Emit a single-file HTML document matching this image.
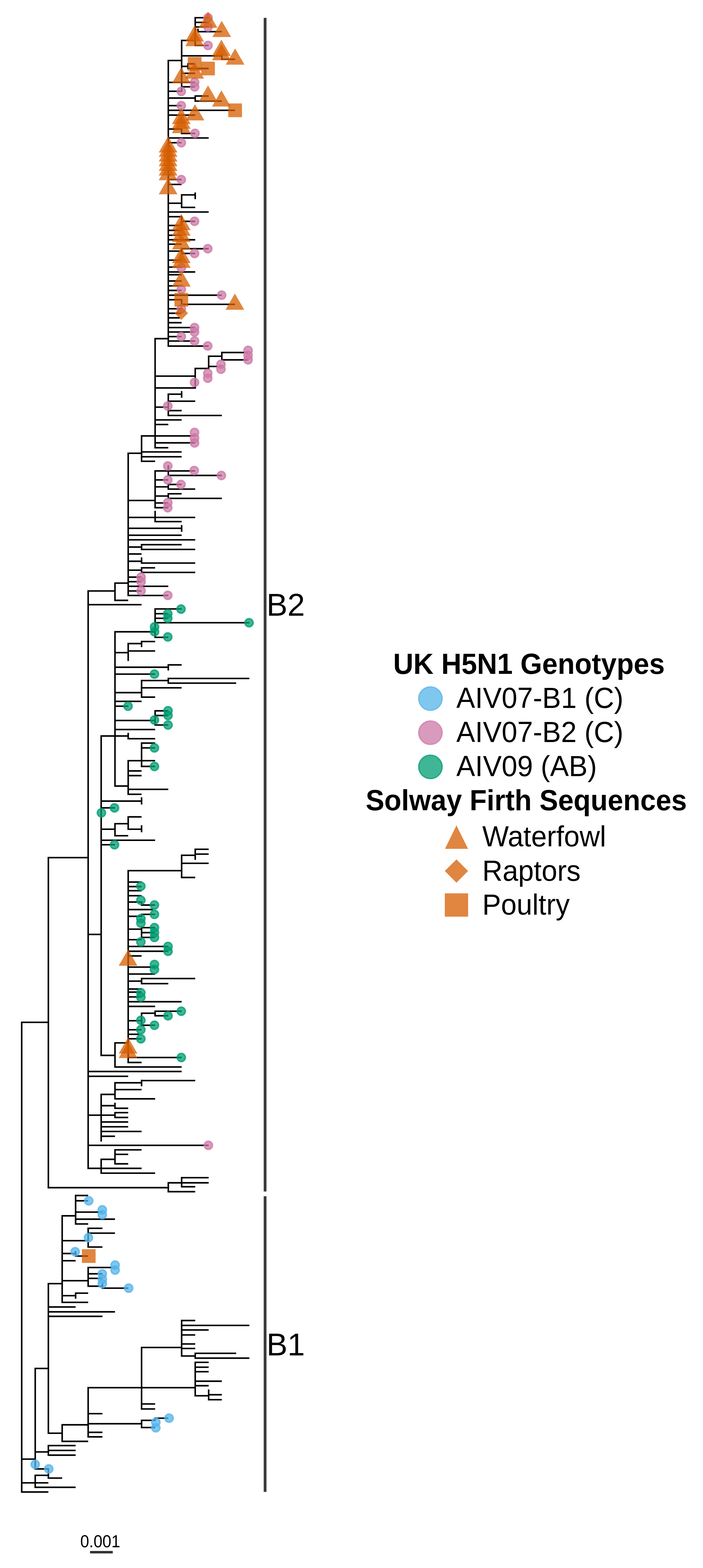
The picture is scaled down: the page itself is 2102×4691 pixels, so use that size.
<!DOCTYPE html>
<html><head><meta charset="utf-8"><title>UK H5N1 phylogeny</title>
<style>
html,body{margin:0;padding:0;background:#fff;}
body{width:2102px;height:4691px;overflow:hidden;position:relative;}
svg{position:absolute;left:0;top:0;display:block;}
text{font-family:"Liberation Sans",sans-serif;fill:#000;}
</style></head><body>
<svg width="2102" height="4691" viewBox="0 0 2102 4691">
<rect width="2102" height="4691" fill="#fff"/>

<path d="M583.7 50.7V138.3M581.4 53.0H623.9M581.4 67.0H623.9M581.4 80.7H623.9M592.0 85.7V97.0M589.7 94.8H663.3M540.8 121.0H583.7M581.4 136.0H623.9M543.1 118.7V275.3M540.8 167.0H663.3M663.3 161.7V179.5M661.0 177.2H702.6M503.2 178.7V1037.7M500.9 181.0H543.1M540.8 198.6H562.0M562.0 188.7V207.2M559.7 191.0H583.7M559.7 204.9H623.9M540.8 219.3H583.7M500.9 246.5H570.0M540.8 246.5H583.7M540.8 259.7H583.7M540.8 273.0H543.1M500.9 273.0H543.1M500.9 293.4H583.7M583.7 284.9V304.8M581.4 287.2H623.9M581.4 302.5H663.3M500.9 316.0H543.1M500.9 330.0H702.6M500.9 344.4H583.7M500.9 386.0H543.1M543.1 383.7V401.4M540.8 399.1H583.7M500.9 412.8H623.9M500.9 440.0H510.0M500.9 454.0H510.0M500.9 468.0H510.0M500.9 482.0H510.0M500.9 495.0H510.0M500.9 509.0H510.0M500.9 523.0H510.0M500.9 427.0H543.1M500.9 537.3H543.1M500.9 551.8H543.1M500.9 608.0H543.1M543.1 580.7V622.8M540.8 583.0H583.7M583.7 575.7V595.7M540.8 620.5H583.7M500.9 634.2H623.9M500.9 648.3H543.1M543.1 646.0V672.7M540.8 662.1H583.7M500.9 674.5H543.1M500.9 689.1H543.1M500.9 703.7H543.1M500.9 717.4H583.7M500.9 730.5H543.1M500.9 730.5H543.1M543.1 741.8V760.6M500.9 751.2H543.1M540.8 744.1H623.9M540.8 758.3H583.7M500.9 778.2H543.1M500.9 799.0H543.1M500.9 813.6H583.7M500.9 821.9H543.1M500.9 840.6H543.1M500.9 855.2H543.1M500.9 868.9H543.1M500.9 883.1H663.3M500.9 896.8H543.1M543.1 894.5V912.8M540.8 910.5H702.6M500.9 923.8H543.1M500.9 937.1H543.1M500.9 950.9H538.0M500.9 965.4H543.1M500.9 980.0H583.7M500.9 993.3H583.7M500.9 1007.0H543.1M500.9 1020.3H583.7M500.9 1035.4H623.9M461.5 1013.1H503.2M463.8 1010.8V1341.8M661.0 1054.6H741.8M661.0 1076.6H741.8M663.3 1052.3V1078.9M621.6 1065.8H663.3M623.9 1063.5V1104.7M621.6 1096.2H663.3M581.4 1102.4H623.9M583.7 1100.1V1162.9M461.5 1125.3H583.7M461.5 1160.6H583.7M503.2 1177.0V1245.3M500.9 1179.3H543.1M543.1 1170.0V1190.0M500.9 1200.2H583.7M461.5 1218.0H503.2M500.9 1228.4H543.1M500.9 1243.0H663.3M461.5 1256.3H543.1M461.5 1270.0H503.2M421.0 1304.1H583.7M461.5 1324.9H583.7M461.5 1339.5H503.2M423.3 1301.8V1375.1M421.0 1352.0H543.1M381.0 1356.0H423.3M421.0 1366.5H543.1M383.3 1353.7V1695.1M423.3 1357.7V1382.3M421.0 1380.0H463.8M463.8 1406.6V1521.2M461.5 1408.9H503.2M503.2 1391.8V1424.7M500.9 1408.9H583.7M500.9 1422.4H663.3M461.5 1435.7H503.2M500.9 1449.4H543.1M503.2 1447.1V1465.5M461.5 1456.5H503.2M500.9 1463.2H583.7M500.9 1477.3H543.1M503.2 1475.0V1493.3M461.5 1484.0H503.2M500.9 1491.0H663.3M381.0 1497.3H463.8M461.5 1504.8H503.2M461.5 1518.9H503.2M463.8 1528.2V1562.8M381.0 1548.0H583.7M461.5 1560.5H543.1M381.0 1580.5H543.1M543.1 1570.7V1591.1M381.0 1601.3H543.1M381.0 1615.0H583.7M423.3 1627.2V1646.0M421.0 1629.5H543.1M381.0 1636.6H423.3M421.0 1643.7H583.7M381.0 1657.4H423.3M423.3 1667.6V1686.8M381.0 1679.1H423.3M421.0 1684.5H583.7M383.3 1676.8V1783.8M423.3 1696.4V1714.8M421.0 1698.7H463.8M381.0 1705.8H423.3M421.0 1712.5H583.7M381.0 1726.6H423.3M381.0 1740.3H423.3M381.0 1754.0H503.2M381.0 1768.0H423.3M381.0 1781.5H503.2M343.8 1742.2V1798.4M341.5 1744.5H383.3M341.5 1796.1H383.3M261.3 1768.0H343.8M263.6 1765.7V2015.1M261.3 1809.0H423.3M463.8 1819.5V1909.0M461.5 1821.8H543.1M461.5 1836.0H503.2M461.5 1849.7H503.2M461.5 1863.0H745.6M341.5 1890.1H463.8M461.5 1906.7H503.2M343.8 1887.8V2015.1M383.3 1923.1V1977.6M381.0 1925.4H423.3M423.3 1916.9V1936.0M421.0 1919.2H463.8M381.0 1947.5H463.8M341.5 1952.5H383.3M341.5 1996.1H503.2M503.2 1986.8V2005.9M500.9 1989.1H543.1M263.6 1997.7V2335.8M343.8 1997.7V2335.8M341.5 2016.7H463.8M423.3 2033.8V2087.9M421.0 2036.0H503.2M503.2 2027.4V2046.0M500.9 2029.7H745.6M500.9 2043.7H706.2M421.0 2057.7H543.1M341.5 2072.1H423.3M421.0 2085.6H463.8M341.5 2098.2H423.3M341.5 2112.7H383.3M463.8 2124.3V2171.3M461.5 2126.6H503.2M461.5 2140.6H503.2M341.5 2155.5H463.8M461.5 2169.0H503.2M341.5 2182.5H463.8M300.2 2201.9H383.3M383.3 2192.4V2212.3M381.0 2210.0H463.8M302.5 2199.6V2335.8M423.3 2220.8V2295.2M421.0 2223.1H463.8M421.0 2237.5H463.8M381.0 2275.8H463.8M421.0 2292.9H463.8M383.3 2273.5V2335.8M381.0 2306.4H423.3M381.0 2320.4H423.3M229.7 2565.8H263.6M302.5 2318.1V2654.7M343.8 2318.1V2353.9M341.5 2351.6H383.3M383.3 2318.1V2378.6M381.0 2361.5H503.2M381.0 2376.3H423.3M300.2 2396.6H423.3M423.3 2385.3V2407.0M300.2 2416.9H343.8M343.8 2461.9V2502.6M300.2 2480.7H343.8M341.5 2464.2H383.3M383.3 2441.6V2483.0M381.0 2443.9H423.3M381.0 2480.7H423.3M423.3 2468.7V2489.9M341.5 2500.3H383.3M300.2 2513.8H463.8M300.2 2527.3H343.8M383.3 2602.5V2654.7M381.0 2604.8H543.1M543.1 2556.5V2627.4M540.8 2558.8H583.7M583.7 2538.5V2572.4M581.4 2540.8H623.9M581.4 2555.2H623.9M540.8 2582.7H623.9M540.8 2625.1H583.7M381.0 2638.9H423.3M302.5 2636.6V2975.8M261.3 2795.5H302.5M383.3 2636.6V2975.8M381.0 2652.4H423.3M381.0 2664.8H423.3M381.0 2679.7H423.3M381.0 2698.6H423.3M423.3 2696.3V2709.9M421.0 2707.6H463.8M381.0 2721.1H457.3M423.3 2733.2V2743.7M421.0 2735.5H463.8M381.0 2741.4H423.3M423.3 2772.9V2806.8M421.0 2775.2H463.8M381.0 2779.7H423.3M421.0 2790.1H463.8M421.0 2804.5H463.8M381.0 2811.2H423.3M381.0 2831.5H503.2M381.0 2845.9H503.2M381.0 2859.9H423.3M381.0 2893.3H463.8M381.0 2914.0H463.8M381.0 2935.2H423.3M423.3 2925.2V2945.1M421.0 2927.5H583.7M421.0 2942.8H503.2M381.0 2958.9H423.3M302.5 2956.6V3159.7M300.2 3157.4H343.8M343.8 3117.7V3194.4M341.5 3120.0H383.3M383.3 2956.6V3180.9M381.0 2968.1H423.3M381.0 2982.5H423.3M381.0 2996.9H543.1M381.0 3010.9H463.8M423.3 3028.9V3069.6M421.0 3031.2H463.8M463.8 3023.0V3041.2M461.5 3025.3H543.1M461.5 3038.9H503.2M381.0 3053.7H423.3M421.0 3067.3H463.8M381.0 3080.8H423.3M381.0 3094.3H416.7M381.0 3107.8H423.3M381.0 3163.7H543.1M381.0 3178.6H423.3M341.5 3192.1H543.1M261.3 3205.6H543.1M261.3 3220.0H383.3M423.3 3230.3V3249.8M421.0 3232.7H583.7M341.5 3239.4H423.3M341.5 3259.7H423.3M343.8 3237.1V3289.7M300.2 3274.1H343.8M341.5 3287.4H463.8M302.5 3271.8V3303.7M263.6 3277.7V3497.7M302.5 3277.7V3415.2M341.5 3287.4H463.8M343.8 3299.1V3317.9M300.2 3307.9H343.8M341.5 3315.6H383.3M261.3 3336.3H343.8M343.8 3326.4V3345.4M341.5 3328.7H383.3M341.5 3343.1H383.3M300.2 3356.6H383.3M300.2 3371.0H383.3M300.2 3385.0H423.3M300.2 3399.4H343.8M261.3 3426.5H623.9M343.8 3437.7V3484.2M341.5 3440.0H423.3M341.5 3453.5H383.3M341.5 3481.9H383.3M300.2 3468.4H343.8M302.5 3466.1V3512.1M261.3 3495.4H423.3M300.2 3509.8H463.8M503.2 3536.3V3567.4M500.9 3538.6H543.1M543.1 3521.0V3552.7M540.8 3523.3H623.9M540.8 3538.6H623.9M540.8 3550.4H583.7M500.9 3565.1H583.7M64.9 3497.7V3833.8M144.6 3497.7V3555.4M142.3 3553.1H503.2M503.2 3536.3V3567.4M226.1 3574.3V3664.1M223.8 3576.6H263.6M223.8 3592.4H263.6M223.8 3626.2H306.3M223.8 3647.4H343.8M223.8 3661.8H263.6M185.9 3635.1V3833.8M183.6 3637.4H226.1M263.6 3672.5V3733.0M261.3 3674.8H306.3M261.3 3689.3H343.8M183.6 3711.8H263.6M261.3 3730.7H306.3M183.6 3750.1H226.1M226.1 3742.4V3760.1M223.8 3757.8H263.6M183.6 3771.7H226.1M263.6 3789.7V3833.8M261.3 3792.0H343.8M261.3 3810.9H306.3M261.3 3824.5H306.3M183.6 3831.5H263.6M64.9 3817.7V4153.8M144.6 3838.0V4153.8M142.3 3840.3H185.9M185.9 3817.7V3898.5M183.6 3831.5H263.6M263.6 3817.7V3850.2M261.3 3847.9H306.3M306.3 3838.0V3856.1M304.0 3853.8H383.3M183.6 3876.3H226.1M226.1 3866.4V3885.4M223.8 3868.7H263.6M183.6 3896.2H263.6M142.3 3910.1H226.1M142.3 3924.6H343.8M142.3 3938.1H306.3M103.0 4094.0H144.6M105.3 4091.7V4153.8M423.3 4028.9V4153.8M421.0 4031.2H543.1M543.1 3948.3V4059.0M261.3 4151.5H423.3M423.3 4028.9V4217.5M421.0 4031.2H543.1M543.1 3948.3V4059.0M540.8 3950.6H583.7M540.8 3965.3H745.6M540.8 3978.9H623.9M540.8 3993.7H583.7M540.8 4020.8H583.7M540.8 4034.3H583.7M540.8 4056.7H583.7M583.7 4046.4V4065.4M581.4 4048.7H706.2M581.4 4063.1H745.6M583.7 4073.4V4178.1M581.4 4075.8H623.9M581.4 4090.2H623.9M581.4 4103.7H623.9M581.4 4132.1H663.3M581.4 4145.6H623.9M421.0 4151.5H583.7M581.4 4175.8H623.9M623.9 4156.8V4189.8M621.6 4172.6H663.3M621.6 4187.5H663.3M421.0 4200.3H463.8M421.0 4215.2H463.8M64.9 4137.7V4465.9M105.3 4137.7V4396.9M144.6 4137.7V4290.1M142.3 4287.8H185.9M185.9 4260.3V4314.4M183.6 4262.6H263.6M183.6 4312.1H263.6M263.6 4149.2V4300.9M423.3 4137.7V4217.5M421.0 4200.3H463.8M421.0 4215.2H463.8M261.3 4229.2H306.3M261.3 4259.4H423.3M423.3 4247.0V4273.0M421.0 4249.3H463.8M463.8 4240.4V4251.6M461.5 4242.8H503.2M421.0 4270.7H463.8M261.3 4285.1H306.3M261.3 4298.6H306.3M144.6 4322.5V4355.7M142.3 4324.8H226.1M142.3 4339.2H226.1M142.3 4353.4H226.1M103.0 4343.7H144.6M62.6 4365.3H105.3M103.0 4394.6H144.6M144.6 4392.3V4424.3M142.3 4422.0H185.9M103.0 4413.8H144.6M105.3 4411.5V4451.9M62.6 4436.2H144.6M103.0 4449.6H226.1M62.6 4463.6H144.6M64.9 3056.2V4465.9M62.6 3058.5H144.6M144.6 2563.5V3555.4M142.3 2565.8H263.6M263.6 1765.7V3497.7M142.3 3553.1H250.0" stroke="#000" stroke-width="4.6" fill="none" stroke-linecap="butt"/>
<circle cx="622.0" cy="53.0" r="12.2" fill="#CC79A7" fill-opacity="0.75" stroke="#CC79A7" stroke-opacity="0.75" stroke-width="4.6"/>
<circle cx="622.0" cy="81.0" r="12.2" fill="#CC79A7" fill-opacity="0.75" stroke="#CC79A7" stroke-opacity="0.75" stroke-width="4.6"/>
<circle cx="622.0" cy="136.0" r="12.2" fill="#CC79A7" fill-opacity="0.75" stroke="#CC79A7" stroke-opacity="0.75" stroke-width="4.6"/>
<circle cx="582.0" cy="246.0" r="12.2" fill="#CC79A7" fill-opacity="0.75" stroke="#CC79A7" stroke-opacity="0.75" stroke-width="4.6"/>
<circle cx="582.0" cy="260.0" r="12.2" fill="#CC79A7" fill-opacity="0.75" stroke="#CC79A7" stroke-opacity="0.75" stroke-width="4.6"/>
<circle cx="542.0" cy="273.5" r="12.2" fill="#CC79A7" fill-opacity="0.75" stroke="#CC79A7" stroke-opacity="0.75" stroke-width="4.6"/>
<circle cx="542.0" cy="316.0" r="12.2" fill="#CC79A7" fill-opacity="0.75" stroke="#CC79A7" stroke-opacity="0.75" stroke-width="4.6"/>
<circle cx="583.0" cy="399.0" r="12.2" fill="#CC79A7" fill-opacity="0.75" stroke="#CC79A7" stroke-opacity="0.75" stroke-width="4.6"/>
<circle cx="542.1" cy="427.0" r="12.2" fill="#CC79A7" fill-opacity="0.75" stroke="#CC79A7" stroke-opacity="0.75" stroke-width="4.6"/>
<circle cx="542.1" cy="537.3" r="12.2" fill="#CC79A7" fill-opacity="0.75" stroke="#CC79A7" stroke-opacity="0.75" stroke-width="4.6"/>
<circle cx="581.7" cy="662.1" r="12.2" fill="#CC79A7" fill-opacity="0.75" stroke="#CC79A7" stroke-opacity="0.75" stroke-width="4.6"/>
<circle cx="621.2" cy="744.1" r="12.2" fill="#CC79A7" fill-opacity="0.75" stroke="#CC79A7" stroke-opacity="0.75" stroke-width="4.6"/>
<circle cx="581.7" cy="758.3" r="12.2" fill="#CC79A7" fill-opacity="0.75" stroke="#CC79A7" stroke-opacity="0.75" stroke-width="4.6"/>
<circle cx="542.1" cy="801.1" r="12.2" fill="#CC79A7" fill-opacity="0.75" stroke="#CC79A7" stroke-opacity="0.75" stroke-width="4.6"/>
<circle cx="542.1" cy="865.6" r="12.2" fill="#CC79A7" fill-opacity="0.75" stroke="#CC79A7" stroke-opacity="0.75" stroke-width="4.6"/>
<circle cx="662.8" cy="883.1" r="12.2" fill="#CC79A7" fill-opacity="0.75" stroke="#CC79A7" stroke-opacity="0.75" stroke-width="4.6"/>
<circle cx="542.1" cy="923.8" r="12.2" fill="#CC79A7" fill-opacity="0.75" stroke="#CC79A7" stroke-opacity="0.75" stroke-width="4.6"/>
<circle cx="581.7" cy="980.0" r="12.2" fill="#CC79A7" fill-opacity="0.75" stroke="#CC79A7" stroke-opacity="0.75" stroke-width="4.6"/>
<circle cx="581.7" cy="993.3" r="12.2" fill="#CC79A7" fill-opacity="0.75" stroke="#CC79A7" stroke-opacity="0.75" stroke-width="4.6"/>
<circle cx="542.1" cy="1007.0" r="12.2" fill="#CC79A7" fill-opacity="0.75" stroke="#CC79A7" stroke-opacity="0.75" stroke-width="4.6"/>
<circle cx="581.7" cy="1020.3" r="12.2" fill="#CC79A7" fill-opacity="0.75" stroke="#CC79A7" stroke-opacity="0.75" stroke-width="4.6"/>
<circle cx="621.2" cy="1034.9" r="12.2" fill="#CC79A7" fill-opacity="0.75" stroke="#CC79A7" stroke-opacity="0.75" stroke-width="4.6"/>
<circle cx="741.8" cy="1048.3" r="12.2" fill="#CC79A7" fill-opacity="0.75" stroke="#CC79A7" stroke-opacity="0.75" stroke-width="4.6"/>
<circle cx="741.8" cy="1062.9" r="12.2" fill="#CC79A7" fill-opacity="0.75" stroke="#CC79A7" stroke-opacity="0.75" stroke-width="4.6"/>
<circle cx="741.8" cy="1076.6" r="12.2" fill="#CC79A7" fill-opacity="0.75" stroke="#CC79A7" stroke-opacity="0.75" stroke-width="4.6"/>
<circle cx="660.7" cy="1089.9" r="12.2" fill="#CC79A7" fill-opacity="0.75" stroke="#CC79A7" stroke-opacity="0.75" stroke-width="4.6"/>
<circle cx="660.7" cy="1104.5" r="12.2" fill="#CC79A7" fill-opacity="0.75" stroke="#CC79A7" stroke-opacity="0.75" stroke-width="4.6"/>
<circle cx="621.2" cy="1117.0" r="12.2" fill="#CC79A7" fill-opacity="0.75" stroke="#CC79A7" stroke-opacity="0.75" stroke-width="4.6"/>
<circle cx="621.2" cy="1131.5" r="12.2" fill="#CC79A7" fill-opacity="0.75" stroke="#CC79A7" stroke-opacity="0.75" stroke-width="4.6"/>
<circle cx="581.7" cy="1144.0" r="12.2" fill="#CC79A7" fill-opacity="0.75" stroke="#CC79A7" stroke-opacity="0.75" stroke-width="4.6"/>
<circle cx="501.8" cy="1214.7" r="12.2" fill="#CC79A7" fill-opacity="0.75" stroke="#CC79A7" stroke-opacity="0.75" stroke-width="4.6"/>
<circle cx="581.7" cy="1293.7" r="12.2" fill="#CC79A7" fill-opacity="0.75" stroke="#CC79A7" stroke-opacity="0.75" stroke-width="4.6"/>
<circle cx="581.7" cy="1310.4" r="12.2" fill="#CC79A7" fill-opacity="0.75" stroke="#CC79A7" stroke-opacity="0.75" stroke-width="4.6"/>
<circle cx="581.7" cy="1324.9" r="12.2" fill="#CC79A7" fill-opacity="0.75" stroke="#CC79A7" stroke-opacity="0.75" stroke-width="4.6"/>
<circle cx="501.7" cy="1394.1" r="12.2" fill="#CC79A7" fill-opacity="0.75" stroke="#CC79A7" stroke-opacity="0.75" stroke-width="4.6"/>
<circle cx="580.7" cy="1407.8" r="12.2" fill="#CC79A7" fill-opacity="0.75" stroke="#CC79A7" stroke-opacity="0.75" stroke-width="4.6"/>
<circle cx="661.8" cy="1422.4" r="12.2" fill="#CC79A7" fill-opacity="0.75" stroke="#CC79A7" stroke-opacity="0.75" stroke-width="4.6"/>
<circle cx="501.7" cy="1435.7" r="12.2" fill="#CC79A7" fill-opacity="0.75" stroke="#CC79A7" stroke-opacity="0.75" stroke-width="4.6"/>
<circle cx="541.2" cy="1449.4" r="12.2" fill="#CC79A7" fill-opacity="0.75" stroke="#CC79A7" stroke-opacity="0.75" stroke-width="4.6"/>
<circle cx="501.7" cy="1503.5" r="12.2" fill="#CC79A7" fill-opacity="0.75" stroke="#CC79A7" stroke-opacity="0.75" stroke-width="4.6"/>
<circle cx="501.7" cy="1518.9" r="12.2" fill="#CC79A7" fill-opacity="0.75" stroke="#CC79A7" stroke-opacity="0.75" stroke-width="4.6"/>
<circle cx="421.8" cy="1726.6" r="12.2" fill="#CC79A7" fill-opacity="0.75" stroke="#CC79A7" stroke-opacity="0.75" stroke-width="4.6"/>
<circle cx="421.8" cy="1740.3" r="12.2" fill="#CC79A7" fill-opacity="0.75" stroke="#CC79A7" stroke-opacity="0.75" stroke-width="4.6"/>
<circle cx="421.8" cy="1767.4" r="12.2" fill="#CC79A7" fill-opacity="0.75" stroke="#CC79A7" stroke-opacity="0.75" stroke-width="4.6"/>
<circle cx="501.7" cy="1781.1" r="12.2" fill="#CC79A7" fill-opacity="0.75" stroke="#CC79A7" stroke-opacity="0.75" stroke-width="4.6"/>
<circle cx="541.2" cy="1822.3" r="12.2" fill="#009E73" fill-opacity="0.75" stroke="#009E73" stroke-opacity="0.75" stroke-width="4.6"/>
<circle cx="501.7" cy="1836.0" r="12.2" fill="#009E73" fill-opacity="0.75" stroke="#009E73" stroke-opacity="0.75" stroke-width="4.6"/>
<circle cx="501.7" cy="1849.7" r="12.2" fill="#009E73" fill-opacity="0.75" stroke="#009E73" stroke-opacity="0.75" stroke-width="4.6"/>
<circle cx="744.6" cy="1863.0" r="12.2" fill="#009E73" fill-opacity="0.75" stroke="#009E73" stroke-opacity="0.75" stroke-width="4.6"/>
<circle cx="462.1" cy="1875.5" r="12.2" fill="#009E73" fill-opacity="0.75" stroke="#009E73" stroke-opacity="0.75" stroke-width="4.6"/>
<circle cx="462.1" cy="1890.1" r="12.2" fill="#009E73" fill-opacity="0.75" stroke="#009E73" stroke-opacity="0.75" stroke-width="4.6"/>
<circle cx="501.7" cy="1905.5" r="12.2" fill="#009E73" fill-opacity="0.75" stroke="#009E73" stroke-opacity="0.75" stroke-width="4.6"/>
<circle cx="461.8" cy="2016.7" r="12.2" fill="#009E73" fill-opacity="0.75" stroke="#009E73" stroke-opacity="0.75" stroke-width="4.6"/>
<circle cx="382.9" cy="2112.7" r="12.2" fill="#009E73" fill-opacity="0.75" stroke="#009E73" stroke-opacity="0.75" stroke-width="4.6"/>
<circle cx="502.4" cy="2126.2" r="12.2" fill="#009E73" fill-opacity="0.75" stroke="#009E73" stroke-opacity="0.75" stroke-width="4.6"/>
<circle cx="502.4" cy="2140.6" r="12.2" fill="#009E73" fill-opacity="0.75" stroke="#009E73" stroke-opacity="0.75" stroke-width="4.6"/>
<circle cx="461.8" cy="2154.1" r="12.2" fill="#009E73" fill-opacity="0.75" stroke="#009E73" stroke-opacity="0.75" stroke-width="4.6"/>
<circle cx="502.4" cy="2169.0" r="12.2" fill="#009E73" fill-opacity="0.75" stroke="#009E73" stroke-opacity="0.75" stroke-width="4.6"/>
<circle cx="461.8" cy="2237.5" r="12.2" fill="#009E73" fill-opacity="0.75" stroke="#009E73" stroke-opacity="0.75" stroke-width="4.6"/>
<circle cx="461.8" cy="2292.9" r="12.2" fill="#009E73" fill-opacity="0.75" stroke="#009E73" stroke-opacity="0.75" stroke-width="4.6"/>
<circle cx="342.4" cy="2416.9" r="12.2" fill="#009E73" fill-opacity="0.75" stroke="#009E73" stroke-opacity="0.75" stroke-width="4.6"/>
<circle cx="303.2" cy="2431.8" r="12.2" fill="#009E73" fill-opacity="0.75" stroke="#009E73" stroke-opacity="0.75" stroke-width="4.6"/>
<circle cx="342.4" cy="2527.3" r="12.2" fill="#009E73" fill-opacity="0.75" stroke="#009E73" stroke-opacity="0.75" stroke-width="4.6"/>
<circle cx="421.2" cy="2651.3" r="12.2" fill="#009E73" fill-opacity="0.75" stroke="#009E73" stroke-opacity="0.75" stroke-width="4.6"/>
<circle cx="421.2" cy="2693.2" r="12.2" fill="#009E73" fill-opacity="0.75" stroke="#009E73" stroke-opacity="0.75" stroke-width="4.6"/>
<circle cx="461.8" cy="2707.6" r="12.2" fill="#009E73" fill-opacity="0.75" stroke="#009E73" stroke-opacity="0.75" stroke-width="4.6"/>
<circle cx="461.8" cy="2735.5" r="12.2" fill="#009E73" fill-opacity="0.75" stroke="#009E73" stroke-opacity="0.75" stroke-width="4.6"/>
<circle cx="421.2" cy="2748.2" r="12.2" fill="#009E73" fill-opacity="0.75" stroke="#009E73" stroke-opacity="0.75" stroke-width="4.6"/>
<circle cx="421.2" cy="2761.7" r="12.2" fill="#009E73" fill-opacity="0.75" stroke="#009E73" stroke-opacity="0.75" stroke-width="4.6"/>
<circle cx="461.8" cy="2775.2" r="12.2" fill="#009E73" fill-opacity="0.75" stroke="#009E73" stroke-opacity="0.75" stroke-width="4.6"/>
<circle cx="461.8" cy="2790.1" r="12.2" fill="#009E73" fill-opacity="0.75" stroke="#009E73" stroke-opacity="0.75" stroke-width="4.6"/>
<circle cx="461.8" cy="2804.5" r="12.2" fill="#009E73" fill-opacity="0.75" stroke="#009E73" stroke-opacity="0.75" stroke-width="4.6"/>
<circle cx="421.2" cy="2818.0" r="12.2" fill="#009E73" fill-opacity="0.75" stroke="#009E73" stroke-opacity="0.75" stroke-width="4.6"/>
<circle cx="502.4" cy="2831.5" r="12.2" fill="#009E73" fill-opacity="0.75" stroke="#009E73" stroke-opacity="0.75" stroke-width="4.6"/>
<circle cx="502.4" cy="2845.9" r="12.2" fill="#009E73" fill-opacity="0.75" stroke="#009E73" stroke-opacity="0.75" stroke-width="4.6"/>
<circle cx="461.8" cy="2885.6" r="12.2" fill="#009E73" fill-opacity="0.75" stroke="#009E73" stroke-opacity="0.75" stroke-width="4.6"/>
<circle cx="461.8" cy="2900.5" r="12.2" fill="#009E73" fill-opacity="0.75" stroke="#009E73" stroke-opacity="0.75" stroke-width="4.6"/>
<circle cx="421.2" cy="2969.9" r="12.2" fill="#009E73" fill-opacity="0.75" stroke="#009E73" stroke-opacity="0.75" stroke-width="4.6"/>
<circle cx="421.2" cy="2983.4" r="12.2" fill="#009E73" fill-opacity="0.75" stroke="#009E73" stroke-opacity="0.75" stroke-width="4.6"/>
<circle cx="542.0" cy="3025.3" r="12.2" fill="#009E73" fill-opacity="0.75" stroke="#009E73" stroke-opacity="0.75" stroke-width="4.6"/>
<circle cx="502.4" cy="3038.9" r="12.2" fill="#009E73" fill-opacity="0.75" stroke="#009E73" stroke-opacity="0.75" stroke-width="4.6"/>
<circle cx="421.2" cy="3052.4" r="12.2" fill="#009E73" fill-opacity="0.75" stroke="#009E73" stroke-opacity="0.75" stroke-width="4.6"/>
<circle cx="461.8" cy="3067.3" r="12.2" fill="#009E73" fill-opacity="0.75" stroke="#009E73" stroke-opacity="0.75" stroke-width="4.6"/>
<circle cx="421.2" cy="3080.8" r="12.2" fill="#009E73" fill-opacity="0.75" stroke="#009E73" stroke-opacity="0.75" stroke-width="4.6"/>
<circle cx="421.2" cy="3107.8" r="12.2" fill="#009E73" fill-opacity="0.75" stroke="#009E73" stroke-opacity="0.75" stroke-width="4.6"/>
<circle cx="542.0" cy="3163.7" r="12.2" fill="#009E73" fill-opacity="0.75" stroke="#009E73" stroke-opacity="0.75" stroke-width="4.6"/>
<circle cx="623.1" cy="3426.5" r="12.2" fill="#CC79A7" fill-opacity="0.75" stroke="#CC79A7" stroke-opacity="0.75" stroke-width="4.6"/>
<circle cx="265.3" cy="3592.4" r="12.2" fill="#56B4E9" fill-opacity="0.75" stroke="#56B4E9" stroke-opacity="0.75" stroke-width="4.6"/>
<circle cx="305.9" cy="3619.4" r="12.2" fill="#56B4E9" fill-opacity="0.75" stroke="#56B4E9" stroke-opacity="0.75" stroke-width="4.6"/>
<circle cx="305.9" cy="3633.8" r="12.2" fill="#56B4E9" fill-opacity="0.75" stroke="#56B4E9" stroke-opacity="0.75" stroke-width="4.6"/>
<circle cx="264.4" cy="3702.8" r="12.2" fill="#56B4E9" fill-opacity="0.75" stroke="#56B4E9" stroke-opacity="0.75" stroke-width="4.6"/>
<circle cx="224.8" cy="3744.7" r="12.2" fill="#56B4E9" fill-opacity="0.75" stroke="#56B4E9" stroke-opacity="0.75" stroke-width="4.6"/>
<circle cx="344.2" cy="3784.8" r="12.2" fill="#56B4E9" fill-opacity="0.75" stroke="#56B4E9" stroke-opacity="0.75" stroke-width="4.6"/>
<circle cx="344.2" cy="3799.7" r="12.2" fill="#56B4E9" fill-opacity="0.75" stroke="#56B4E9" stroke-opacity="0.75" stroke-width="4.6"/>
<circle cx="305.9" cy="3811.0" r="12.2" fill="#56B4E9" fill-opacity="0.75" stroke="#56B4E9" stroke-opacity="0.75" stroke-width="4.6"/>
<circle cx="305.9" cy="3826.8" r="12.2" fill="#56B4E9" fill-opacity="0.75" stroke="#56B4E9" stroke-opacity="0.75" stroke-width="4.6"/>
<circle cx="305.9" cy="3840.3" r="12.2" fill="#56B4E9" fill-opacity="0.75" stroke="#56B4E9" stroke-opacity="0.75" stroke-width="4.6"/>
<circle cx="384.7" cy="3853.8" r="12.2" fill="#56B4E9" fill-opacity="0.75" stroke="#56B4E9" stroke-opacity="0.75" stroke-width="4.6"/>
<circle cx="505.5" cy="4242.7" r="12.2" fill="#56B4E9" fill-opacity="0.75" stroke="#56B4E9" stroke-opacity="0.75" stroke-width="4.6"/>
<circle cx="465.9" cy="4254.9" r="12.2" fill="#56B4E9" fill-opacity="0.75" stroke="#56B4E9" stroke-opacity="0.75" stroke-width="4.6"/>
<circle cx="465.9" cy="4271.6" r="12.2" fill="#56B4E9" fill-opacity="0.75" stroke="#56B4E9" stroke-opacity="0.75" stroke-width="4.6"/>
<circle cx="105.3" cy="4381.1" r="12.2" fill="#56B4E9" fill-opacity="0.75" stroke="#56B4E9" stroke-opacity="0.75" stroke-width="4.6"/>
<circle cx="145.9" cy="4394.6" r="12.2" fill="#56B4E9" fill-opacity="0.75" stroke="#56B4E9" stroke-opacity="0.75" stroke-width="4.6"/>
<polygon points="622.0,34.7 594.0,83.2 650.0,83.2" fill="#D55E00" fill-opacity="0.75"/>
<polygon points="663.0,62.2 635.0,110.7 691.0,110.7" fill="#D55E00" fill-opacity="0.75"/>
<polygon points="582.0,75.7 554.0,124.2 610.0,124.2" fill="#D55E00" fill-opacity="0.75"/>
<polygon points="582.0,89.7 554.0,138.2 610.0,138.2" fill="#D55E00" fill-opacity="0.75"/>
<polygon points="662.0,118.7 634.0,167.2 690.0,167.2" fill="#D55E00" fill-opacity="0.75"/>
<polygon points="662.0,131.7 634.0,180.2 690.0,180.2" fill="#D55E00" fill-opacity="0.75"/>
<polygon points="703.0,145.1 675.0,193.6 731.0,193.6" fill="#D55E00" fill-opacity="0.75"/>
<rect x="561.5" y="170.5" width="41" height="41" fill="#D55E00" fill-opacity="0.75"/>
<rect x="601.5" y="184.5" width="41" height="41" fill="#D55E00" fill-opacity="0.75"/>
<polygon points="582.0,186.7 554.0,235.2 610.0,235.2" fill="#D55E00" fill-opacity="0.75"/>
<polygon points="542.0,200.7 514.0,249.2 570.0,249.2" fill="#D55E00" fill-opacity="0.75"/>
<polygon points="622.0,255.4 594.0,303.9 650.0,303.9" fill="#D55E00" fill-opacity="0.75"/>
<polygon points="662.0,270.2 634.0,318.7 690.0,318.7" fill="#D55E00" fill-opacity="0.75"/>
<rect x="682.5" y="309.5" width="41" height="41" fill="#D55E00" fill-opacity="0.75"/>
<polygon points="583.0,311.7 555.0,360.2 611.0,360.2" fill="#D55E00" fill-opacity="0.75"/>
<polygon points="542.0,322.7 514.0,371.2 570.0,371.2" fill="#D55E00" fill-opacity="0.75"/>
<polygon points="542.0,336.7 514.0,385.2 570.0,385.2" fill="#D55E00" fill-opacity="0.75"/>
<polygon points="542.0,349.7 514.0,398.2 570.0,398.2" fill="#D55E00" fill-opacity="0.75"/>
<polygon points="502.6,407.7 474.6,456.2 530.6,456.2" fill="#D55E00" fill-opacity="0.75"/>
<polygon points="502.6,420.7 474.6,469.2 530.6,469.2" fill="#D55E00" fill-opacity="0.75"/>
<polygon points="502.6,434.7 474.6,483.2 530.6,483.2" fill="#D55E00" fill-opacity="0.75"/>
<polygon points="502.6,448.7 474.6,497.2 530.6,497.2" fill="#D55E00" fill-opacity="0.75"/>
<polygon points="502.6,462.7 474.6,511.2 530.6,511.2" fill="#D55E00" fill-opacity="0.75"/>
<polygon points="502.6,476.7 474.6,525.2 530.6,525.2" fill="#D55E00" fill-opacity="0.75"/>
<polygon points="502.6,490.7 474.6,539.2 530.6,539.2" fill="#D55E00" fill-opacity="0.75"/>
<polygon points="502.6,532.7 474.6,581.2 530.6,581.2" fill="#D55E00" fill-opacity="0.75"/>
<polygon points="542.1,640.1 514.1,688.6 570.1,688.6" fill="#D55E00" fill-opacity="0.75"/>
<polygon points="542.1,656.8 514.1,705.3 570.1,705.3" fill="#D55E00" fill-opacity="0.75"/>
<polygon points="542.1,675.5 514.1,724.0 570.1,724.0" fill="#D55E00" fill-opacity="0.75"/>
<polygon points="542.1,697.7 514.1,746.2 570.1,746.2" fill="#D55E00" fill-opacity="0.75"/>
<polygon points="542.1,738.4 514.1,786.9 570.1,786.9" fill="#D55E00" fill-opacity="0.75"/>
<polygon points="542.1,753.0 514.1,801.5 570.1,801.5" fill="#D55E00" fill-opacity="0.75"/>
<polygon points="542.1,809.1 514.1,857.6 570.1,857.6" fill="#D55E00" fill-opacity="0.75"/>
<rect x="521.6" y="876.3" width="41" height="41" fill="#D55E00" fill-opacity="0.75"/>
<polygon points="702.3,878.2 674.3,926.7 730.3,926.7" fill="#D55E00" fill-opacity="0.75"/>
<polygon points="542.1,917.1 562.1,937.1 542.1,957.1 522.1,937.1" fill="#D55E00" fill-opacity="0.75"/>
<polygon points="382.9,2840.7 354.9,2889.2 410.9,2889.2" fill="#D55E00" fill-opacity="0.75"/>
<polygon points="382.9,3103.4 354.9,3151.9 410.9,3151.9" fill="#D55E00" fill-opacity="0.75"/>
<polygon points="382.9,3116.9 354.9,3165.4 410.9,3165.4" fill="#D55E00" fill-opacity="0.75"/>
<rect x="244.8" y="3737.3" width="41" height="41" fill="#D55E00" fill-opacity="0.75"/>
<rect x="788.5" y="53.4" width="8.3" height="3511.2" fill="#3a3a3a"/>
<rect x="788.5" y="3578.8" width="8.3" height="884.5" fill="#3a3a3a"/>
<text transform="translate(797,1842.2) scale(1.0,1.0)" font-size="93.7">B2</text>
<text transform="translate(797,4055) scale(1.0,1.0)" font-size="93.7">B1</text>
<rect x="269.2" y="4640" width="68" height="7.4" fill="#333"/>
<text transform="translate(240,4629.3) scale(0.955,1.05)" font-size="50">0.001</text>
<text transform="translate(1175.7,2016.3) scale(1.0,1.04)" font-size="83.5" font-weight="bold">UK H5N1 Genotypes</text>
<circle cx="1287" cy="2090.0" r="35" fill="#56B4E9" fill-opacity="0.75" stroke="#56B4E9" stroke-opacity="0.75" stroke-width="4"/>
<text transform="translate(1364.6,2118) scale(1.0,1.04)" font-size="84">AIV07-B1 (C)</text>
<circle cx="1287" cy="2192.1" r="35" fill="#CC79A7" fill-opacity="0.75" stroke="#CC79A7" stroke-opacity="0.75" stroke-width="4"/>
<text transform="translate(1364.6,2220.1) scale(1.0,1.04)" font-size="84">AIV07-B2 (C)</text>
<circle cx="1287" cy="2294.3" r="35" fill="#009E73" fill-opacity="0.75" stroke="#009E73" stroke-opacity="0.75" stroke-width="4"/>
<text transform="translate(1364.6,2322.3) scale(1.0,1.04)" font-size="84">AIV09 (AB)</text>
<text transform="translate(1093.4,2424) scale(1.0,1.04)" font-size="83.5" font-weight="bold">Solway Firth Sequences</text>
<polygon points="1364.8,2469.3 1330.5,2539.6 1399.6,2539.6" fill="#D55E00" fill-opacity="0.75"/>
<polygon points="1364.8,2571 1399.6,2605.8 1364.8,2640.7 1330,2605.8" fill="#D55E00" fill-opacity="0.75"/>
<rect x="1330" y="2672.6" width="69.7" height="69.8" fill="#D55E00" fill-opacity="0.75"/>
<text transform="translate(1442,2532.3) scale(1.0,1.04)" font-size="84">Waterfowl</text>
<text transform="translate(1442,2634.6) scale(1.0,1.04)" font-size="84">Raptors</text>
<text transform="translate(1442,2736) scale(1.0,1.04)" font-size="84">Poultry</text>
</svg>
</body></html>
